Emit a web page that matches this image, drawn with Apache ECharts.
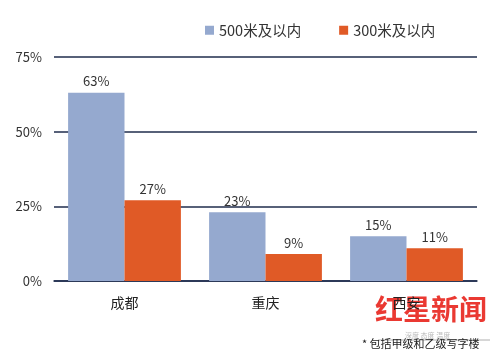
<!DOCTYPE html>
<html lang="zh">
<head>
    <meta charset="utf-8">
    <title>写字楼距离地铁站比例</title>
    <script src="https://cdn.jsdelivr.net/npm/echarts@6/dist/echarts.min.js"></script>
    <style>
        html, body { margin: 0; padding: 0; background: #fff; }
        #chart { width: 500px; height: 355px; }
    </style>
</head>
<body>
    <div id="chart"></div>
    <script type="text/javascript">
        var cities = ["成都", "重庆", "西安"];
        var within500 = [63, 23, 15];
        var within300 = [27, 9, 11];
        var seriesNames = ["500米及以内", "300米及以内"];

        var mychart = echarts.init(document.getElementById("chart"));
        var labelStyle = {
            show: true,
            position: "top",
            formatter: "{c}%",
            color: "#333",
            fontSize: 13,
            fontFamily: "Noto Sans CJK SC"
        };
        var option = {
            backgroundColor: "#fff",
            color: ["#95a9cf", "#e05a26"],
            textStyle: { fontFamily: "Noto Sans CJK SC" },
            legend: {
                top: 18,
                left: 200,
                itemWidth: 9,
                itemHeight: 9,
                itemGap: 38,
                icon: "rect",
                textStyle: { fontSize: 14.5, color: "#333" },
                data: seriesNames
            },
            grid: { left: 54, right: 23, top: 57, bottom: 74 },
            xAxis: {
                type: "category",
                data: cities,
                axisLine: { lineStyle: { color: "#1f2d4d", width: 1.5 } },
                axisTick: { show: false },
                axisLabel: { fontSize: 14, color: "#222", margin: 15 }
            },
            yAxis: {
                type: "value",
                min: 0,
                max: 75,
                interval: 25,
                axisLine: { show: false },
                axisTick: { show: false },
                axisLabel: { formatter: "{value}%", fontSize: 13, color: "#333", margin: 12 },
                splitLine: { lineStyle: { color: "#1f2d4d", width: 1.5 } }
            },
            series: [
                {
                    name: seriesNames[0],
                    type: "bar",
                    data: within500,
                    barGap: "0%",
                    barCategoryGap: "20%",
                    label: labelStyle
                },
                {
                    name: seriesNames[1],
                    type: "bar",
                    data: within300,
                    label: labelStyle
                }
            ],
            graphic: [
                {
                    type: "text",
                    left: 375,
                    top: 295,
                    style: { text: "红星新闻", fill: "#e8231c", font: "bold 28px 'Noto Sans CJK SC'", opacity: 0.9 }
                },
                {
                    type: "text",
                    left: 405,
                    top: 332,
                    style: { text: "深度 态度 温度", fill: "#bbb", font: "7px 'Noto Sans CJK SC'" }
                },
                {
                    type: "line",
                    shape: { x1: 378, y1: 340, x2: 490, y2: 340 },
                    style: { stroke: "#999", lineWidth: 0.8 }
                },
                {
                    type: "text",
                    left: 362,
                    top: 338,
                    style: { text: "* 包括甲级和乙级写字楼", fill: "#222", font: "11px 'Noto Sans CJK SC'" }
                }
            ]
        };
        mychart.setOption(option);
    </script>
</body>
</html>
